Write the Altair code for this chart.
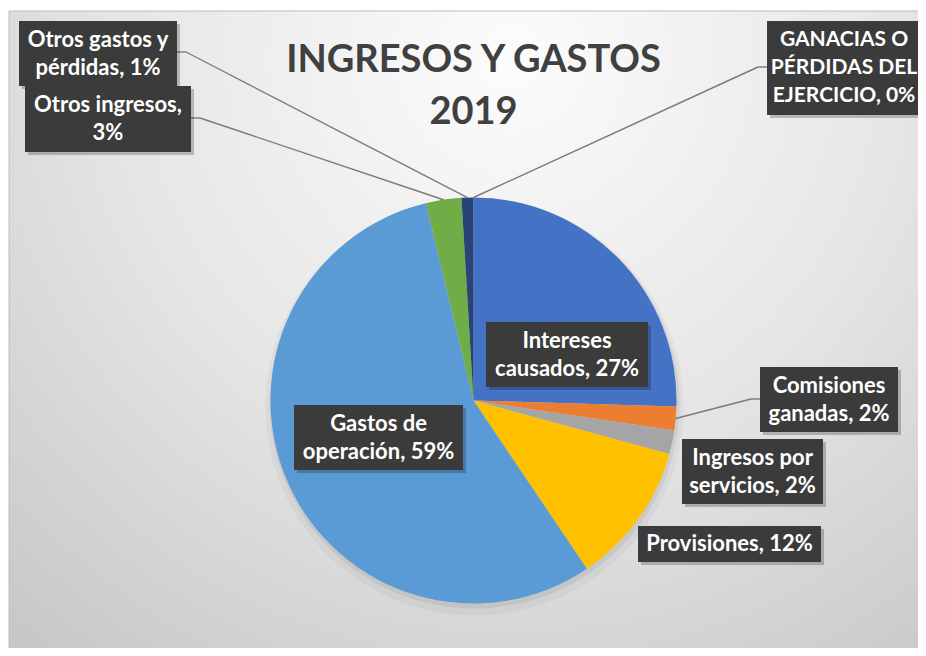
import altair as alt
import pandas as pd

# ---------------- data ----------------
categories = ["Intereses causados", "Comisiones ganadas", "Ingresos por servicios", "Provisiones",
              "Gastos de operación", "Otros ingresos", "Otros gastos y pérdidas",
              "GANACIAS O PÉRDIDAS DEL EJERCICIO"]
values = [27, 2, 2, 12, 59, 3, 1, 0]
label_lines = [["Intereses", "causados, 27%"],
               ["Comisiones", "ganadas, 2%"],
               ["Ingresos por", "servicios, 2%"],
               ["Provisiones, 12%"],
               ["Gastos de", "operación, 59%"],
               ["Otros ingresos,", "3%"],
               ["Otros gastos y", "pérdidas, 1%"],
               ["GANACIAS O", "PÉRDIDAS DEL", "EJERCICIO, 0%"]]
title_lines = ["INGRESOS Y GASTOS", "2019"]

# ---------------- style / layout ----------------
colors = ["#4472C4", "#ED7D31", "#A5A5A5", "#FFC000", "#5B9BD5", "#70AD47", "#264478", "#9E480E"]
W, H = 910, 640
CX, CY, R = 464.5, 392.5, 203
box_x1 = [477, 751, 673, 629, 285, 16, 10, 758]
box_x2 = [639, 889, 814, 812, 454, 182, 168, 912]
box_y1 = [314, 359, 431, 518, 397, 78, 13, 13]
box_y2 = [379, 424, 496, 554, 462, 144, 78, 107]
label_size = [22, 22, 22, 22, 22, 22, 22, 21]
leader_side = [0, -1, 0, 0, 0, 1, 1, -1]   # -1 enters box left edge, 1 leaves right edge, 0 none
leader_y = [0, 391, 0, 0, 0, 110, 44, 59]
title_y = [64, 116]

df = pd.DataFrame({
    "idx": list(range(len(categories))),
    "category": categories,
    "value": values,
    "lines": label_lines,
    "bx1": box_x1, "bx2": box_x2, "by1": box_y1, "by2": box_y2,
    "fs": label_size,
    "side": leader_side, "ly": leader_y,
})
title_df = pd.DataFrame({"t": title_lines, "y": title_y})

base = alt.Chart(df)
one = alt.Chart(alt.Data(values=[{}]))

bg = one.mark_rect(
    fill=alt.RadialGradient(
        gradient="radial",
        stops=[alt.GradientStop(color="#fcfcfc", offset=0),
               alt.GradientStop(color="#e6e6e6", offset=0.5),
               alt.GradientStop(color="#c6c6c6", offset=1)],
        x1=0.55, y1=0.2, r1=0, x2=0.55, y2=0.2, r2=0.85),
    stroke="#bdbdbd", strokeWidth=1,
).encode(x=alt.value(0), x2=alt.value(W + 2), y=alt.value(3), y2=alt.value(H + 2))

shadow1 = one.mark_arc(theta=0, theta2=6.2832, outerRadius=R + 6, color="#000000", opacity=0.035).encode(
    x=alt.value(CX + 1), y=alt.value(CY + 6))
shadow2 = one.mark_arc(theta=0, theta2=6.2832, outerRadius=R + 2, color="#000000", opacity=0.06).encode(
    x=alt.value(CX + 1), y=alt.value(CY + 3))

pie = base.mark_arc(outerRadius=R).encode(
    theta=alt.Theta("value:Q", stack=True),
    order=alt.Order("idx:Q"),
    color=alt.Color("category:N", scale=alt.Scale(domain=categories, range=colors), legend=None),
    x=alt.value(CX), y=alt.value(CY),
)

leaders = base.transform_joinaggregate(total="sum(value)").transform_window(
    cum="sum(value)", sort=[alt.SortField("idx")], frame=[None, 0]
).transform_calculate(
    mid="(datum.cum - datum.value / 2) / datum.total * 2 * PI",
).transform_calculate(
    ax=f"{CX} + {R} * sin(datum.mid)",
    ay=f"{CY} - {R} * cos(datum.mid)",
    edge="datum.side < 0 ? datum.bx1 : datum.bx2",
).transform_calculate(
    bend="datum.edge + datum.side * 9",
).transform_filter("datum.side != 0")

lead1 = leaders.mark_rule(color="#7a7a7a", strokeWidth=1.4).encode(
    x=alt.X("ax:Q", scale=None, axis=None), y=alt.Y("ay:Q", scale=None, axis=None),
    x2="bend:Q", y2="ly:Q")
lead2 = leaders.mark_rule(color="#7a7a7a", strokeWidth=1.4).encode(
    x=alt.X("bend:Q", scale=None, axis=None), y=alt.Y("ly:Q", scale=None, axis=None),
    x2="edge:Q", y2="ly:Q")

boxes = base.transform_calculate(
    sx1="datum.bx1 + 3", sx2="datum.bx2 + 3", sy1="datum.by1 + 3", sy2="datum.by2 + 3")
box_shadow = boxes.mark_rect(color="#000000", opacity=0.22).encode(
    x=alt.X("sx1:Q", scale=None, axis=None), x2="sx2:Q",
    y=alt.Y("sy1:Q", scale=None, axis=None), y2="sy2:Q")
box = base.mark_rect(color="#3b3b3b").encode(
    x=alt.X("bx1:Q", scale=None, axis=None), x2="bx2:Q",
    y=alt.Y("by1:Q", scale=None, axis=None), y2="by2:Q")

text = base.transform_calculate(
    tx="(datum.bx1 + datum.bx2) / 2",
    ty="(datum.by1 + datum.by2) / 2 - (length(datum.lines) - 1) * 14",
).mark_text(font="Lato", fontWeight="bold", color="white",
            lineHeight=28, align="center", baseline="middle").encode(
    x=alt.X("tx:Q", scale=None, axis=None), y=alt.Y("ty:Q", scale=None, axis=None),
    size=alt.Size("fs:Q", scale=None, legend=None),
    text="lines")

title = alt.Chart(title_df).mark_text(font="Lato", fontWeight="bold", fontSize=38, color="#404040",
                                      align="center", baseline="alphabetic").encode(
    x=alt.value(CX), y=alt.Y("y:Q", scale=None, axis=None), text="t:N")

chart = alt.layer(bg, shadow1, shadow2, pie, lead1, lead2, box_shadow, box, text, title).properties(
    width=W, height=H, padding=0,
    autosize=alt.AutoSizeParams(type="fit", contains="padding"),
    background="white",
).configure_view(stroke=None)

chart.save("out.html", embed_options={"renderer": "svg", "actions": False})
